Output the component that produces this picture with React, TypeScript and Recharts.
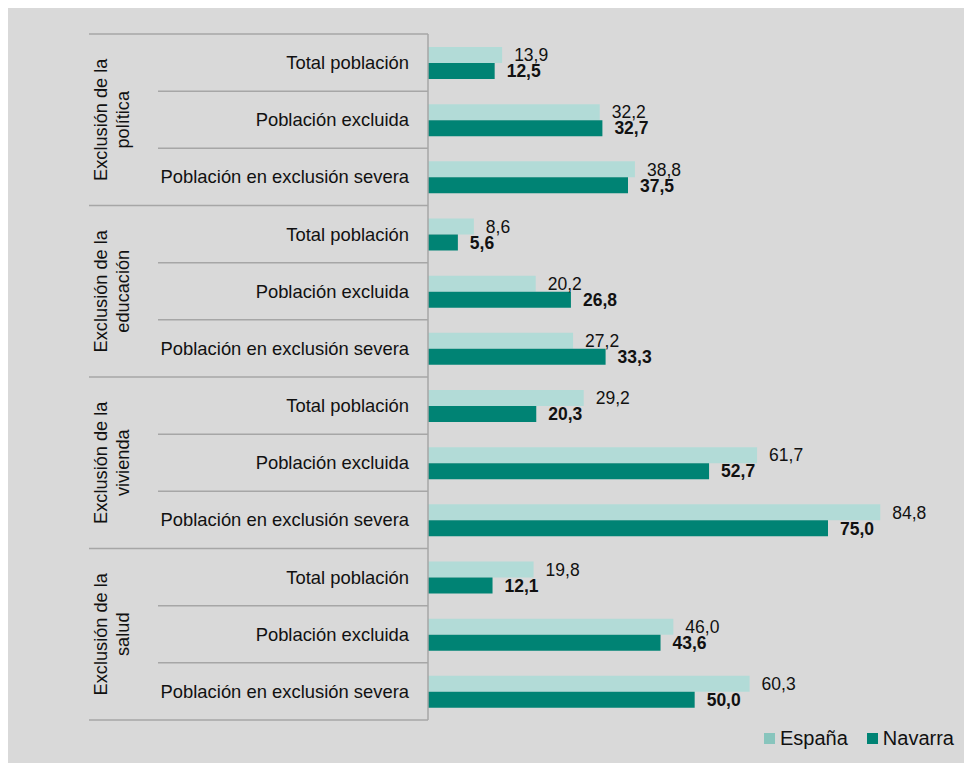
import { Bar, BarChart, LabelList, Legend, XAxis, YAxis } from "recharts";

const groups = [
  ["Exclusión de la", "política"],
  ["Exclusión de la", "educación"],
  ["Exclusión de la", "vivienda"],
  ["Exclusión de la", "salud"],
];
const subLabels = [
  "Total población",
  "Población excluida",
  "Población en exclusión severa",
];
const espana = [13.9, 32.2, 38.8, 8.6, 20.2, 27.2, 29.2, 61.7, 84.8, 19.8, 46.0, 60.3];
const navarra = [12.5, 32.7, 37.5, 5.6, 26.8, 33.3, 20.3, 52.7, 75.0, 12.1, 43.6, 50.0];

const data = espana.map((v, i) => ({
  id: i,
  label: subLabels[i % 3],
  espana: v,
  navarra: navarra[i],
}));

const W = 964;
const H = 755;
const MARGIN = { top: 26, right: 64, bottom: 43, left: 0 };
const AXIS_W = 420;
const BAND = (H - MARGIN.top - MARGIN.bottom) / data.length;
const FONT = "'Liberation Sans', Arial, sans-serif";
const LINE = "#a6a6a6";
const C_ESP = "#b2dbd7";
const C_ESP_LEG = "#88c5bd";
const C_NAV = "#008374";

const fmt = (v: any) => Number(v).toFixed(1).replace(".", ",");

function CategoryTick(props: any) {
  const { y, payload, index } = props;
  const i = payload?.value ?? index;
  const ax = AXIS_W;
  const pos = i % 3;
  const bottom = y + BAND / 2;
  const top = y - BAND / 2;
  const g = groups[Math.floor(i / 3)];
  return (
    <g>
      {i === 0 && <line x1={ax - 339} x2={ax} y1={top} y2={top} stroke={LINE} strokeWidth={1.5} />}
      <line
        x1={pos === 2 ? ax - 339 : ax - 270}
        x2={ax}
        y1={bottom}
        y2={bottom}
        stroke={LINE}
        strokeWidth={1.5}
      />
      <text x={ax - 19} y={y} dy="0.35em" textAnchor="end" fontSize={18.4} fill="#111" fontFamily={FONT}>
        {subLabels[pos]}
      </text>
      {pos === 1 && (
        <text
          transform={`translate(${ax - 327}, ${y}) rotate(-90)`}
          textAnchor="middle"
          fontSize={18.2}
          fill="#111"
          fontFamily={FONT}
        >
          <tspan x={0} dy="0.35em">{g[0]}</tspan>
          <tspan x={0} dy="1.2em">{g[1]}</tspan>
        </text>
      )}
    </g>
  );
}

function LegendContent() {
  const items = [
    { name: "España", color: C_ESP_LEG },
    { name: "Navarra", color: C_NAV },
  ];
  return (
    <div style={{ display: "flex", gap: 19, fontFamily: FONT, fontSize: 20, color: "#111" }}>
      {items.map((it) => (
        <div key={it.name} style={{ display: "flex", alignItems: "center", gap: 5 }}>
          <span style={{ width: 11, height: 11, background: it.color, display: "inline-block" }} />
          <span>{it.name}</span>
        </div>
      ))}
    </div>
  );
}

export default function App() {
  return (
    <div style={{ width: W, height: H, background: "#d9d9d9" }}>
      <BarChart
        width={W}
        height={H}
        data={data}
        layout="vertical"
        margin={MARGIN}
        barSize={16}
        barGap={0}
      >
        <XAxis type="number" domain={[0, 90]} hide />
        <YAxis
          type="category"
          dataKey="id"
          width={AXIS_W}
          axisLine={{ stroke: LINE, strokeWidth: 1.5 }}
          tickLine={false}
          tick={<CategoryTick />}
          interval={0}
        />
        <Legend
          layout="horizontal"
          verticalAlign="middle"
          align="center"
          content={<LegendContent />}
          wrapperStyle={{ top: 719, left: 756, width: 210 }}
        />
        <Bar dataKey="espana" name="España" fill={C_ESP} isAnimationActive={false}>
          <LabelList
            dataKey="espana"
            position="right"
            offset={12}
            formatter={fmt}
            style={{ fontSize: 17.5, fontFamily: FONT, fill: "#111" }}
          />
        </Bar>
        <Bar dataKey="navarra" name="Navarra" fill={C_NAV} isAnimationActive={false}>
          <LabelList
            dataKey="navarra"
            position="right"
            offset={12}
            formatter={fmt}
            style={{ fontSize: 17.5, fontFamily: FONT, fill: "#111", fontWeight: "bold" }}
          />
        </Bar>
      </BarChart>
    </div>
  );
}
